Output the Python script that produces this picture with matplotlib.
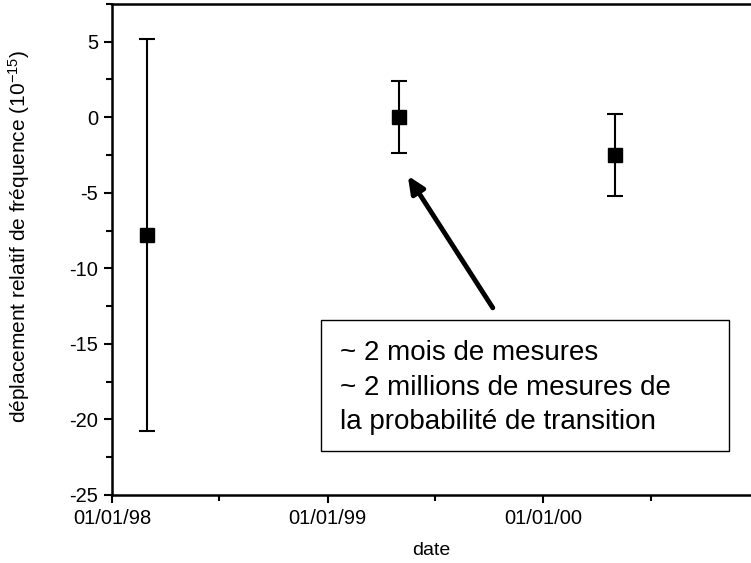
import numpy as np
import matplotlib
matplotlib.use("Agg")
import matplotlib.pyplot as plt
import matplotlib.dates as mdates
from matplotlib.patches import Rectangle
from datetime import datetime

plt.rcParams['font.family'] = ['Liberation Sans', 'DejaVu Sans']
plt.rcParams['axes.unicode_minus'] = False
plt.rcParams['mathtext.fontset'] = 'custom'
plt.rcParams['mathtext.rm'] = 'Liberation Sans'
plt.rcParams['mathtext.default'] = 'regular'

# data
dates = [datetime(1998, 3, 1), datetime(1999, 5, 1), datetime(2000, 5, 1)]
shift = [-7.8, 0.0, -2.5]
err = [13.0, 2.4, 2.7]

fig = plt.figure(figsize=(7.51, 5.63), dpi=100)
ax = fig.add_axes([0.149, 0.121, 0.851, 0.872])

ax.errorbar(dates, shift, yerr=err, fmt='s', color='black', ms=10.5,
            elinewidth=1.5, capsize=6, capthick=1.5)

ax.set_xlim(datetime(1998, 1, 1), datetime(2000, 12, 17))
ax.set_ylim(-25, 7.5)
ax.set_yticks([5, 0, -5, -10, -15, -20, -25])
ax.yaxis.set_minor_locator(matplotlib.ticker.MultipleLocator(2.5))
ax.xaxis.set_major_locator(mdates.YearLocator())
ax.xaxis.set_major_formatter(mdates.DateFormatter('%d/%m/%y'))
ax.xaxis.set_minor_locator(mdates.MonthLocator(bymonth=7))

for s in ['top', 'left', 'bottom']:
    ax.spines[s].set_linewidth(1.8)
ax.spines['right'].set_visible(False)
ax.tick_params(which='major', length=6, width=1.5, labelsize=14.5, pad=4)
ax.tick_params(which='minor', length=4, width=1.5)

ax.set_xlabel('date', fontsize=14)
ax.set_ylabel(r'déplacement relatif de fréquence (10$^{-15}$)', fontsize=15)
ax.xaxis.set_label_coords(0.5, -0.097)
ax.yaxis.set_label_coords(-0.125, 0.527)

# annotation box and arrow
ax.annotate('', xy=(0.463, 0.65), xytext=(0.596, 0.381), xycoords='axes fraction',
            arrowprops=dict(arrowstyle='-|>,head_length=1.0,head_width=0.45',
                            lw=3.5, color='black', shrinkA=0, shrinkB=0))
ax.add_patch(Rectangle((0.327, 0.0896), 0.639, 0.266, transform=ax.transAxes,
                       fc='white', ec='black', lw=1, zorder=3))
ax.text(0.357, 0.218, '~ 2 mois de mesures\n~ 2 millions de mesures de\nla probabilité de transition',
        transform=ax.transAxes, fontsize=20, linespacing=1.42, va='center', ha='left', zorder=4)

fig.savefig('out.png', dpi=100)
